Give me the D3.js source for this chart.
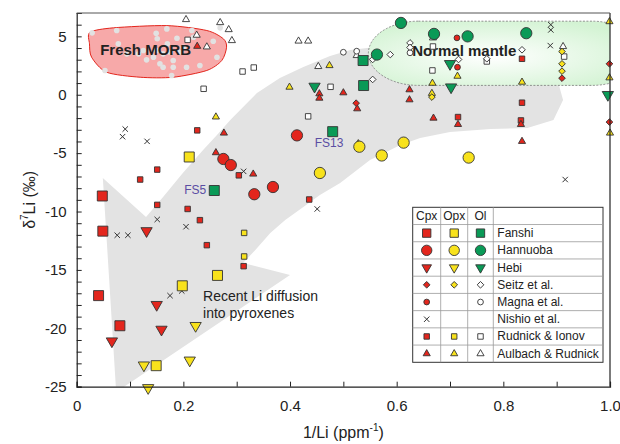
<!DOCTYPE html>
<html>
<head>
<meta charset="utf-8">
<script src="https://cdn.jsdelivr.net/npm/d3@7"></script>
<style>
  body { margin: 0; background: #fff; }
  svg { font-family: "Liberation Sans", Arial, Helvetica, sans-serif; }
</style>
</head>
<body>
<div id="chart"></div>
<script>
// ---- data (x = 1/Li, y = d7Li) ----
const fanshiCpx = [[0.048,-8.67],[0.049,-11.68],[0.041,-17.2],[0.081,-19.78]];
const fanshiOpx = [[0.211,-5.33],[0.264,-15.47],[0.198,-16.36],[0.149,-23.2]];
const fanshiOl = [[0.48,-3.16],[0.258,-8.2],[0.537,2.93],[0.538,0.79]];

const hannuobaCpx = [[0.413,-3.48],[0.275,-5.5],[0.289,-6.02],[0.333,-8.52],[0.368,-7.9]];
const hannuobaOpx = [[0.456,-6.7],[0.530,-4.45],[0.572,-5.2],[0.613,-4.1],[0.735,-5.38]];
const hannuobaOl = [[0.608,6.15],[0.670,5.21],[0.733,5.0],[0.563,3.44],[0.843,5.27]];

const hebiCpx = [[0.131,-11.66],[0.066,-21.1],[0.150,-17.98],[0.159,-20.1]];
const hebiOpx = [[0.223,-19.78],[0.126,-23.16],[0.212,-22.74],[0.134,-25.1]];
const hebiOl = [[0.446,0.71],[0.700,2.65],[0.702,0.65],[0.996,0.0]];

const seitzCpx = [[0.524,-0.72],[0.910,1.42],[0.999,2.65],[0.999,-2.34]];
const seitzOpx = [[0.666,-0.2],[0.910,3.7],[0.910,2.65],[0.910,2.02]];
const seitzOl = [[0.555,3.02],[0.588,3.44],[0.555,1.31],[0.625,4.44],[0.625,4.05],[0.716,3.02],[0.835,3.85],[0.769,3.08]];

const magnaCpx = [[0.713,4.87],[0.714,2.36]];
const magnaOl = [[0.500,3.64],[0.525,3.73],[0.625,3.59]];

const nishioCpx = [[0.091,-2.94],[0.086,-3.59],[0.132,-3.99],[0.313,-6.56],[0.451,-9.78],[0.151,-10.68],
  [0.205,-11.3],[0.076,-12.03],[0.096,-12.03],[0.175,-17.2],[0.197,-16.8],[0.916,-7.26],[0.889,6.0],[0.889,5.55],[0.888,4.21]];

const rudnickCpx = [[0.226,-3.05],[0.304,-6.9],[0.151,-6.41],[0.119,-7.26],[0.151,-9.43],[0.208,-9.78],[0.231,-10.74],
  [0.244,-12.88],[0.313,-14.68],[0.436,-8.97],[0.715,-1.91],[0.835,-0.68],[0.833,-2.2],[0.835,3.08]];
const rudnickOpx = [[0.314,-11.83],[0.314,-13.85]];
const rudnickOl = [[0.208,4.7],[0.311,1.99],[0.332,2.33],[0.238,0.51],[0.434,-1.85],[0.476,0.68],[0.668,4.13],[0.667,2.08],[0.769,2.85],[0.914,3.27]];

const aulbachCpx = [[0.226,4.15],[0.276,-3.28],[0.5,0.17],[0.455,0.085],[0.455,-0.29],[0.261,-4.96],[0.331,-6.79],[0.835,-3.99],
  [0.624,0.43],[0.624,-0.43],[0.526,-1.2],[0.715,-2.54],[0.669,-2.0],[0.833,-2.54]];
const aulbachOpx = [[0.261,-1.9],[0.474,2.5],[0.399,0.65],[0.528,-4.19],[1.0,-3.28],[0.714,1.59],[0.667,0.99],[0.666,0.12],[0.835,1.08],[0.999,6.26],[0.999,1.45]];
const aulbachOl = [[0.205,6.44],[0.269,6.18],[0.285,5.58],[0.225,5.1],[0.291,4.64],[0.244,4.1],[0.416,4.6],[0.434,4.6],[0.453,2.42],[0.668,4.87],[0.525,3.36],[0.912,4.13]];

// fresh MORB points and outline
const morbDots = [[0.029,5.30],[0.075,5.50],[0.078,4.36],[0.094,3.50],[0.116,3.50],[0.131,2.99],[0.144,3.21],[0.149,5.26],
  [0.151,4.79],[0.156,2.65],[0.162,2.36],[0.169,5.64],[0.170,4.36],[0.181,2.93],[0.181,2.36],[0.188,4.84],[0.192,3.64],
  [0.178,1.65],[0.206,2.36],[0.216,5.50],[0.219,4.92],[0.231,2.50],[0.256,4.58],[0.263,3.21],[0.269,5.73],[0.053,2.08],
  [0.162,3.50],[0.150,3.79],[0.125,3.79],[0.200,4.07],[0.175,3.64]];
const morbOutline = [[0.025,5.35],[0.069,5.73],[0.169,5.92],[0.244,5.50],[0.275,4.79],[0.281,4.07],[0.272,2.93],[0.244,2.08],
  [0.181,1.50],[0.119,1.50],[0.056,1.93],[0.028,3.21],[0.024,4.36]];

// "recent Li diffusion" arrow outline
const diffusionArrow = [[0.130,-10.47],[0.162,-8.76],[0.199,-6.70],[0.237,-4.73],[0.263,-3.45],[0.288,-2.16],[0.338,0.15],
  [0.381,1.43],[0.425,2.38],[0.475,3.32],[0.513,3.83],[0.607,4.35],[0.757,4.35],[0.869,3.40],[0.899,1.69],[0.912,-0.45],
  [0.894,-2.16],[0.845,-2.85],[0.776,-2.93],[0.700,-3.19],[0.644,-3.7],[0.607,-4.3],[0.550,-5.59],[0.494,-7.56],[0.456,-8.59],
  [0.425,-9.61],[0.391,-10.73],[0.363,-11.84],[0.335,-13.29],[0.312,-14.41],[0.400,-15.44],[0.074,-25.46],[0.049,-7.13]];

// normal mantle field extent in data units
const mantleField = {x0: 0.547, x1: 1.06, y0: 0.8, y1: 6.3};

const xTicks = [0, 0.2, 0.4, 0.6, 0.8, 1.0];
const yTicks = [5, 0, -5, -10, -15, -20, -25];
const sampleLabels = [{name: "FS13", at: [0.48, -3.16]}, {name: "FS5", at: [0.258, -8.2]}];

const studies = ["Fanshi", "Hannuoba", "Hebi", "Seitz et al.", "Magna et al.", "Nishio et al.", "Rudnick & Ionov", "Aulbach & Rudnick"];
const minerals = ["Cpx", "Opx", "Ol"];
const seriesData = {
  "Fanshi": [fanshiCpx, fanshiOpx, fanshiOl],
  "Hannuoba": [hannuobaCpx, hannuobaOpx, hannuobaOl],
  "Hebi": [hebiCpx, hebiOpx, hebiOl],
  "Seitz et al.": [seitzCpx, seitzOpx, seitzOl],
  "Magna et al.": [magnaCpx, null, magnaOl],
  "Nishio et al.": [nishioCpx, null, null],
  "Rudnick & Ionov": [rudnickCpx, rudnickOpx, rudnickOl],
  "Aulbach & Rudnick": [aulbachCpx, aulbachOpx, aulbachOl]
};

// ---- styles ----
const mineralFill = ["#e3261d", "#f8e21c", "#0a9a57"];
const openFill = "#fff";
const symbolFor = {
  "Fanshi": {shape: "square", size: 100},
  "Hannuoba": {shape: "circle", size: 100},
  "Hebi": {shape: "down", size: 55},
  "Seitz et al.": {shape: "diamond", size: 22},
  "Magna et al.": {shape: "circle", size: 26},
  "Nishio et al.": {shape: "cross", size: 3},
  "Rudnick & Ionov": {shape: "square", size: 30},
  "Aulbach & Rudnick": {shape: "triangle", size: 22}
};
const smallStudies = ["Seitz et al.", "Magna et al.", "Rudnick & Ionov", "Aulbach & Rudnick"];

const width = 620, height = 444;
const margin = {top: 13, right: 10, bottom: 57.3, left: 76.7};

const svg = d3.select("#chart").append("svg")
  .attr("width", width).attr("height", height);

const x = d3.scaleLinear().domain([0, 1]).range([margin.left, width - margin.right]);
const y = d3.scaleLinear().domain([-25, 7]).range([height - margin.bottom, margin.top]);

svg.append("clipPath").attr("id", "plot-clip")
  .append("rect")
  .attr("x", margin.left).attr("y", margin.top)
  .attr("width", x(1) - x(0)).attr("height", y(-25) - y(7));

const plot = svg.append("g").attr("clip-path", "url(#plot-clip)");

// diffusion arrow
plot.append("path")
  .datum(diffusionArrow)
  .attr("d", d3.line().x(d => x(d[0])).y(d => y(d[1])).curve(d3.curveLinearClosed))
  .attr("fill", "#e3e3e3");

// normal mantle field
const grad = svg.append("defs").append("radialGradient")
  .attr("id", "mantle-grad").attr("cx", "0.45").attr("cy", "0.55").attr("r", "0.6");
grad.append("stop").attr("offset", "0%").attr("stop-color", "#ffffff");
grad.append("stop").attr("offset", "100%").attr("stop-color", "#d3f3d3");

const mx0 = x(mantleField.x0), mx1 = x(mantleField.x1);
const my0 = y(mantleField.y1), my1 = y(mantleField.y0);
plot.append("rect")
  .attr("x", mx0).attr("y", my0)
  .attr("width", mx1 - mx0).attr("height", my1 - my0)
  .attr("rx", 50).attr("ry", (my1 - my0) / 2)
  .attr("fill", "url(#mantle-grad)")
  .attr("stroke", "#777").attr("stroke-width", 0.8).attr("stroke-dasharray", "2,1.5");

// fresh MORB field
plot.append("path")
  .datum(morbOutline)
  .attr("d", d3.line().x(d => x(d[0])).y(d => y(d[1])).curve(d3.curveCardinalClosed.tension(0.2)))
  .attr("fill", "#f7a9a9").attr("stroke", "#e3261d").attr("stroke-width", 1);

plot.selectAll(".morb-dot")
  .data(morbDots)
  .enter().append("circle")
  .attr("class", "morb-dot")
  .attr("cx", d => x(d[0])).attr("cy", d => y(d[1]))
  .attr("r", 2.8)
  .attr("fill", "#e2e2e2");

svg.append("text")
  .attr("x", x(0.044)).attr("y", y(3.75))
  .attr("font-size", 15).attr("font-weight", "bold").attr("fill", "#222")
  .attr("dominant-baseline", "middle")
  .text("Fresh MORB");

svg.append("text")
  .attr("x", x(0.629)).attr("y", y(3.65))
  .attr("font-size", 15).attr("font-weight", "bold").attr("fill", "#222")
  .attr("dominant-baseline", "middle")
  .text("Normal mantle");

// symbol helper
function symbolPath(shape, size) {
  if (shape === "cross") {
    const r = size * 0.9;
    return `M${-r},${-r}L${r},${r}M${-r},${r}L${r},${-r}`;
  }
  if (shape === "square" || shape === "diamond") return d3.symbol().type(d3.symbolSquare).size(size)();
  if (shape === "circle") return d3.symbol().type(d3.symbolCircle).size(size)();
  return d3.symbol().type(d3.symbolTriangle).size(size)();
}
function symbolTransform(shape, px, py) {
  if (shape === "down") return `translate(${px},${py}) rotate(180)`;
  if (shape === "diamond") return `translate(${px},${py}) rotate(45)`;
  return `translate(${px},${py})`;
}
function styleSymbol(sel, study, mi) {
  const s = symbolFor[study];
  if (s.shape === "cross") {
    sel.attr("fill", "none").attr("stroke", "#333").attr("stroke-width", 1);
  } else {
    sel.attr("fill", mi === 2 && smallStudies.includes(study) ? openFill : mineralFill[mi])
      .attr("stroke", "#333").attr("stroke-width", 0.9);
  }
}

// data points (small symbols first, big ones on top)
const drawOrder = ["Nishio et al.", "Rudnick & Ionov", "Aulbach & Rudnick", "Seitz et al.", "Magna et al.", "Hebi", "Fanshi", "Hannuoba"];
const pts = svg.append("g");
drawOrder.forEach(study => {
  const s = symbolFor[study];
  seriesData[study].forEach((arr, mi) => {
    if (!arr) return;
    const g = pts.selectAll(null)
      .data(arr)
      .enter().append("path")
      .attr("d", symbolPath(s.shape, s.size))
      .attr("transform", d => symbolTransform(s.shape, x(d[0]), y(d[1])));
    styleSymbol(g, study, mi);
  });
});

// sample labels
svg.selectAll(".sample-label")
  .data(sampleLabels)
  .enter().append("text")
  .attr("class", "sample-label")
  .attr("x", d => d.name === "FS13" ? x(d.at[0]) - 18 : x(d.at[0]) - 8)
  .attr("y", d => d.name === "FS13" ? y(d.at[1]) + 12 : y(d.at[1]))
  .attr("text-anchor", d => d.name === "FS13" ? "start" : "end")
  .attr("dominant-baseline", "middle")
  .attr("font-size", 12).attr("fill", "#5b4ea3")
  .text(d => d.name);

// diffusion annotation
const note = svg.append("text").attr("font-size", 14).attr("fill", "#222");
note.append("tspan").attr("x", x(0.237)).attr("y", y(-17.2) + 5).text("Recent Li diffusion");
note.append("tspan").attr("x", x(0.237)).attr("y", y(-18.7) + 5).text("into pyroxenes");

// axes
const xAxis = svg.append("g")
  .attr("transform", `translate(0,${y(-25)})`)
  .call(d3.axisBottom(x).ticks(10).tickSize(-5).tickPadding(14)
    .tickFormat(d => xTicks.some(t => Math.abs(t - d) < 1e-9) ? (d === 0 ? "0" : d3.format(".1f")(d)) : ""));
const yAxis = svg.append("g")
  .attr("transform", `translate(${x(0)},0)`)
  .call(d3.axisLeft(y).tickValues(d3.range(-25, 8, 1)).tickSize(-5).tickPadding(10)
    .tickFormat(d => yTicks.includes(d) ? String(d) : ""));

[xAxis, yAxis].forEach(a => {
  a.select(".domain").attr("stroke", "#222").attr("stroke-width", 1.2);
  a.selectAll(".tick line").attr("stroke", "#222");
  a.selectAll(".tick text").attr("font-size", 15).attr("fill", "#222")
    .attr("font-family", "'Liberation Sans', Arial, sans-serif");
});

// right and top frame
svg.append("line")
  .attr("x1", x(1)).attr("x2", x(1)).attr("y1", y(7)).attr("y2", y(-25))
  .attr("stroke", "#222").attr("stroke-width", 1.2);
svg.append("line")
  .attr("x1", x(0)).attr("x2", x(1)).attr("y1", y(7)).attr("y2", y(7))
  .attr("stroke", "#555").attr("stroke-width", 1);

// axis titles
const xTitle = svg.append("text")
  .attr("x", (x(0) + x(1)) / 2).attr("y", 438)
  .attr("text-anchor", "middle").attr("font-size", 16).attr("fill", "#222");
xTitle.append("tspan").text("1/Li (ppm");
xTitle.append("tspan").attr("font-size", 10).attr("dy", -7).text("-1");
xTitle.append("tspan").attr("dy", 7).text(")");

const yTitle = svg.append("text")
  .attr("transform", `translate(35,${(y(7) + y(-25)) / 2}) rotate(-90)`)
  .attr("text-anchor", "middle").attr("font-size", 16).attr("fill", "#222");
yTitle.append("tspan").text("δ");
yTitle.append("tspan").attr("font-size", 10).attr("dy", -7).text("7");
yTitle.append("tspan").attr("dy", 7).text("Li (‰)");

// legend table
const lg = {left: 412.7, right: 603, top: 207.3, bottom: 362.3, cols: [412.7, 440.7, 467.7, 493.3]};
const rowH = (lg.bottom - lg.top) / (studies.length + 1);
const legend = svg.append("g");
legend.append("rect")
  .attr("x", lg.left).attr("y", lg.top)
  .attr("width", lg.right - lg.left).attr("height", lg.bottom - lg.top)
  .attr("fill", "#fff").attr("stroke", "#333").attr("stroke-width", 1);
d3.range(1, studies.length + 1).forEach(i => {
  legend.append("line")
    .attr("x1", lg.left).attr("x2", lg.right)
    .attr("y1", lg.top + i * rowH).attr("y2", lg.top + i * rowH)
    .attr("stroke", "#999").attr("stroke-width", 0.8);
});
lg.cols.slice(1).forEach(cx => {
  legend.append("line")
    .attr("x1", cx).attr("x2", cx).attr("y1", lg.top).attr("y2", lg.bottom)
    .attr("stroke", "#999").attr("stroke-width", 0.8);
});
minerals.forEach((m, i) => {
  legend.append("text")
    .attr("x", (lg.cols[i] + lg.cols[i + 1]) / 2).attr("y", lg.top + rowH / 2)
    .attr("text-anchor", "middle").attr("dominant-baseline", "central")
    .attr("font-size", 12).attr("fill", "#222").text(m);
});
studies.forEach((st, r) => {
  const cy = lg.top + (r + 1.5) * rowH;
  legend.append("text")
    .attr("x", lg.cols[3] + 4).attr("y", cy)
    .attr("dominant-baseline", "central")
    .attr("font-size", 12).attr("fill", "#222").text(st);
  const s = symbolFor[st];
  seriesData[st].forEach((arr, mi) => {
    if (!arr) return;
    const cx = (lg.cols[mi] + lg.cols[mi + 1]) / 2;
    const sz = st === "Fanshi" ? 70 : st === "Hannuoba" ? 85 : st === "Hebi" ? 40 : s.size;
    const p = legend.append("path")
      .attr("d", symbolPath(s.shape, sz))
      .attr("transform", symbolTransform(s.shape, cx, cy));
    styleSymbol(p, st, mi);
  });
});
</script>
</body>
</html>
